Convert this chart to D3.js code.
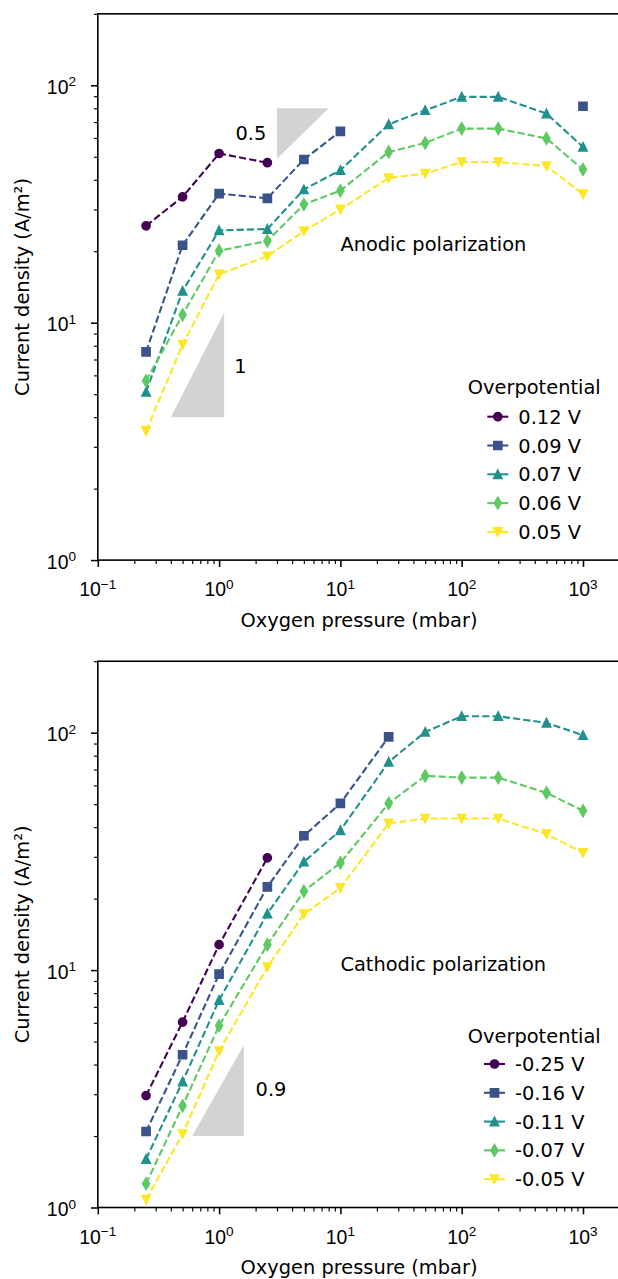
<!DOCTYPE html>
<html><head><meta charset="utf-8">
<script src="https://cdn.jsdelivr.net/npm/d3@7"></script>
<style>
html,body{margin:0;padding:0;background:#fff;}
svg{display:block;font-family:"DejaVu Sans",sans-serif;}
</style></head>
<body>
<svg id="chart" width="618" height="1279"></svg>
<script>
// ---------------- data ----------------
const pressures = [0.25, 0.5, 1, 2.5, 5, 10, 25, 50, 100, 200, 500, 1000];

const anodicLabels = ["0.12 V", "0.09 V", "0.07 V", "0.06 V", "0.05 V"];
const anodic012 = [25.6, 33.9, 51.6, 47.2, null, null, null, null, null, null, null, null];
const anodic009 = [7.53, 21.2, 35.0, 33.4, 48.7, 64.0, null, null, null, null, null, 81.6];
const anodic007 = [5.11, 13.6, 24.5, 24.8, 36.4, 43.9, 68.5, 78.5, 89.4, 89.4, 76.0, 55.0];
const anodic006 = [5.69, 10.8, 20.1, 22.1, 31.5, 36.0, 52.4, 57.2, 65.7, 65.7, 59.7, 44.2];
const anodic005 = [3.50, 8.09, 16.0, 19.05, 24.3, 30.0, 40.7, 42.5, 47.5, 47.5, 45.7, 34.8];

const cathodicLabels = ["-0.25 V", "-0.16 V", "-0.11 V", "-0.07 V", "-0.05 V"];
const cathodic025 = [2.96, 6.04, 12.8, 29.7, null, null, null, null, null, null, null, null];
const cathodic016 = [2.09, 4.40, 9.62, 22.4, 36.8, 50.4, 96.0, null, null, null, null, null];
const cathodic011 = [1.60, 3.39, 7.48, 17.3, 28.6, 38.8, 75.3, 100.7, 117.3, 117.3, 110.0, 97.6];
const cathodic007 = [1.26, 2.68, 5.83, 12.8, 21.5, 28.3, 50.4, 65.8, 64.7, 64.7, 55.8, 46.9];
const cathodic005 = [1.08, 2.04, 4.56, 10.3, 17.2, 22.2, 41.5, 43.5, 43.5, 43.5, 37.4, 31.2];

// slope guide triangles (data coordinates) and their labels
const anodicSlopeHalf = [[3, 80], [8, 80], [3, 49]];
const anodicSlopeOne = [[0.4, 4], [1.1, 4], [1.1, 11]];
const cathodicSlope = [[0.6, 2], [1.6, 2], [1.6, 4.84]];
const anodicSlopeLabels = [{t: "0.5", x: 1.83, y: 58.8}, {t: "1", x: 1.5, y: 6.15}];
const cathodicSlopeLabels = [{t: "0.9", x: 2.68, y: 2.95}];

const xMajorTicks = [0.1, 1, 10, 100, 1000];
const xTickExponents = ["\u22121", "0", "1", "2", "3"];
const yMajorTicks = [1, 10, 100];
const yTickExponents = ["0", "1", "2"];

const xDomain = [0.1, 3000];
const yDomain = [1, 200];

// ---------------- style ----------------
const colors = ["#440154", "#3b528b", "#21918c", "#5ec962", "#fde725"];
const shapes = ["circle", "square", "triUp", "thinDiamond", "triDown"];
const FS = 19.4;
const MS = 7.8;

function markerPath(shape, s) {
  const h = s / 2;
  if (shape === "circle") return d3.symbol(d3.symbolCircle, Math.PI * h * h)();
  if (shape === "square") return `M${-h},${-h}h${s}v${s}h${-s}Z`;
  if (shape === "triUp") return `M0,${-h}L${h},${h}L${-h},${h}Z`;
  if (shape === "triDown") return `M0,${h}L${h},${-h}L${-h},${-h}Z`;
  if (shape === "thinDiamond") {
    const a = 0.7071 * s, b = 0.4243 * s;
    return `M0,${-a}L${b},0L0,${a}L${-b},0Z`;
  }
}

const svg = d3.select("#chart");
svg.append("rect").attr("width", 618).attr("height", 1279).attr("fill", "#fff");

function panel(cfg) {
  const left = 97.8, decade = 121.3;
  const right = left + decade * Math.log10(xDomain[1] / xDomain[0]);
  const ydec = 237.4;
  const top = cfg.bottom - ydec * Math.log10(yDomain[1] / yDomain[0]);
  const x = d3.scaleLog().domain(xDomain).range([left, right]);
  const y = d3.scaleLog().domain(yDomain).range([cfg.bottom, top]);
  const g = svg.append("g");

  // slope triangles
  cfg.slopes.forEach(tri => {
    g.append("path")
      .attr("d", "M" + tri.map(p => x(p[0]) + "," + y(p[1])).join("L") + "Z")
      .attr("fill", "#d3d3d3");
  });
  cfg.slopeLabels.forEach(l => {
    g.append("text").attr("x", x(l.x)).attr("y", y(l.y))
      .attr("text-anchor", "middle").attr("font-size", FS).text(l.t);
  });

  // series
  cfg.series.forEach((vals, i) => {
    const pts = pressures.map((p, j) => ({x: p, y: vals[j]}));
    const line = d3.line().defined(d => d.y != null).x(d => x(d.x)).y(d => y(d.y));
    g.append("path").attr("d", line(pts)).attr("fill", "none")
      .attr("stroke", colors[i]).attr("stroke-width", 2.1)
      .attr("stroke-dasharray", "7.2,3.1");
    g.selectAll(null).data(pts.filter(d => d.y != null)).enter().append("path")
      .attr("transform", d => `translate(${x(d.x)},${y(d.y)})`)
      .attr("d", markerPath(shapes[i], MS))
      .attr("fill", colors[i]).attr("stroke", colors[i]).attr("stroke-width", 1.9);
  });

  // annotation
  g.append("text").attr("x", x(10)).attr("y", cfg.annotY)
    .attr("font-size", FS).text(cfg.annotation);

  // legend
  const lg = g.append("g");
  lg.append("text").attr("x", cfg.legTitleX).attr("y", cfg.legTitleY)
    .attr("font-size", FS).text("Overpotential");
  cfg.labels.forEach((lab, i) => {
    const cy = cfg.legY0 + i * cfg.legDy;
    lg.append("line").attr("x1", cfg.legHandleX).attr("x2", cfg.legHandleX + 21)
      .attr("y1", cy).attr("y2", cy).attr("stroke", colors[i]).attr("stroke-width", 2.1);
    lg.append("path").attr("transform", `translate(${cfg.legHandleX + 10.5},${cy})`)
      .attr("d", markerPath(shapes[i], MS))
      .attr("fill", colors[i]).attr("stroke", colors[i]).attr("stroke-width", 1.9);
    lg.append("text").attr("x", cfg.legHandleX + 31).attr("y", cy + 7)
      .attr("font-size", FS).text(lab);
  });

  // x axis
  const xMinor = [];
  for (let e = -1; e <= 3; e++) for (let k = 2; k <= 9; k++) {
    const v = k * Math.pow(10, e);
    if (v <= xDomain[1]) xMinor.push(v);
  }
  const axG = g.append("g").attr("transform", `translate(0,${cfg.bottom})`);
  axG.call(d3.axisBottom(x).tickValues(xMinor).tickSize(3.9).tickFormat(() => ""))
    .call(a => a.select(".domain").remove())
    .call(a => a.selectAll("line").attr("stroke", "#000").attr("stroke-width", 1.16));
  axG.append("g").call(d3.axisBottom(x).tickValues(xMajorTicks).tickSize(6.8).tickFormat(() => ""))
    .call(a => a.select(".domain").remove())
    .call(a => a.selectAll("line").attr("stroke", "#000").attr("stroke-width", 1.55));
  xMajorTicks.forEach((v, i) => {
    const t = axG.append("text").attr("x", x(v)).attr("y", 36)
      .attr("text-anchor", "middle").attr("font-size", FS).attr("fill", "#000");
    t.append("tspan").text("10");
    t.append("tspan").attr("dy", -7.5).attr("font-size", 13.6).text(xTickExponents[i]);
  });
  g.append("text").attr("x", 359).attr("y", cfg.bottom + 66.5)
    .attr("text-anchor", "middle").attr("font-size", FS).text("Oxygen pressure (mbar)");

  // y axis
  const yMinor = [];
  for (let e = 0; e <= 2; e++) for (let k = 2; k <= 9; k++) {
    const v = k * Math.pow(10, e);
    if (v <= yDomain[1]) yMinor.push(v);
  }
  const ayG = g.append("g").attr("transform", `translate(${left},0)`);
  ayG.call(d3.axisLeft(y).tickValues(yMinor).tickSize(3.9).tickFormat(() => ""))
    .call(a => a.select(".domain").remove())
    .call(a => a.selectAll("line").attr("stroke", "#000").attr("stroke-width", 1.16));
  ayG.append("g").call(d3.axisLeft(y).tickValues(yMajorTicks).tickSize(6.8).tickFormat(() => ""))
    .call(a => a.select(".domain").remove())
    .call(a => a.selectAll("line").attr("stroke", "#000").attr("stroke-width", 1.55));
  yMajorTicks.forEach((v, i) => {
    const t = ayG.append("text").attr("x", 76 - left).attr("y", y(v) + 8.5)
      .attr("text-anchor", "end").attr("font-size", FS).attr("fill", "#000");
    t.append("tspan").text("10");
    t.append("tspan").attr("dy", -7.5).attr("font-size", 13.6).text(yTickExponents[i]);
  });
  g.append("text").attr("transform", `translate(28.5,${(top + cfg.bottom) / 2}) rotate(-90)`)
    .attr("text-anchor", "middle").attr("font-size", FS).text("Current density (A/m\u00b2)");

  // frame
  g.append("rect").attr("x", left).attr("y", top).attr("width", right - left)
    .attr("height", cfg.bottom - top).attr("fill", "none")
    .attr("stroke", "#000").attr("stroke-width", 1.6);
}

panel({
  bottom: 560.1,
  series: [anodic012, anodic009, anodic007, anodic006, anodic005],
  labels: anodicLabels,
  slopes: [anodicSlopeHalf, anodicSlopeOne],
  slopeLabels: anodicSlopeLabels,
  annotation: "Anodic polarization", annotY: 251,
  legTitleX: 467.8, legTitleY: 394,
  legHandleX: 487.3, legY0: 416.7, legDy: 28.8
});
panel({
  bottom: 1207.5,
  series: [cathodic025, cathodic016, cathodic011, cathodic007, cathodic005],
  labels: cathodicLabels,
  slopes: [cathodicSlope],
  slopeLabels: cathodicSlopeLabels,
  annotation: "Cathodic polarization", annotY: 971,
  legTitleX: 467.8, legTitleY: 1042.5,
  legHandleX: 484, legY0: 1064, legDy: 28.8
});
</script>
</body></html>
